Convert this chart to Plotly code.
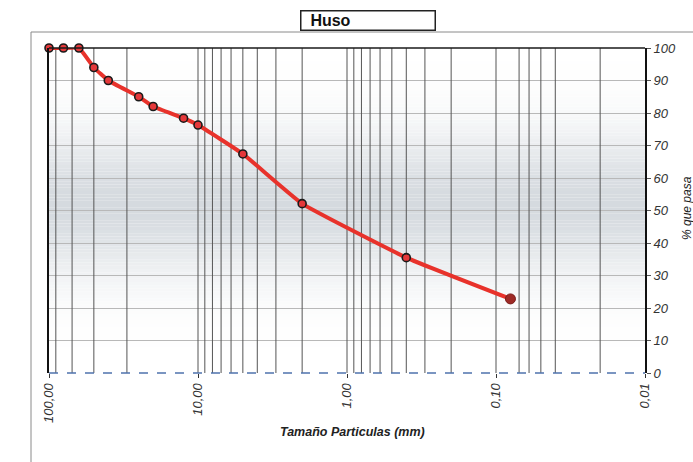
import numpy as np
import plotly.graph_objects as go

# Grain-size curve (sieve opening in mm vs. cumulative % passing)
sizes_mm = [100, 80, 63, 50, 40, 25, 20, 12.5, 10, 5, 2, 0.4, 0.08]
pct_passing = [100, 100, 100, 94, 90, 85, 82, 78.4, 76.3, 67.4, 52.1, 35.5, 22.8]

# Vertical reference lines of the log grid
grid_sizes = [90, 70, 50, 30, 10, 9, 8, 7, 6, 5, 4, 3, 2,
              1, 0.9, 0.8, 0.7, 0.6, 0.5, 0.4, 0.3, 0.2,
              0.1, 0.07, 0.06, 0.05, 0.04, 0.02]

x_tick_vals = [100, 10, 1, 0.1, 0.01]
x_tick_text = ["100,00", "10,00", "1,00", "0,10", "0,01"]
y_tick_vals = list(range(0, 101, 10))

W, H = 693, 462
ML, MR, MT, MB = 49, 48, 48, 89
PW = W - ML - MR
PH = H - MT - MB


def px_x(p):
    return (p - ML) / PW


def px_y(p):
    return (H - MB - p) / PH


FONT = "Liberation Sans, Arial, sans-serif"

fig = go.Figure()

# vertical grid lines
gx, gy = [], []
for s in grid_sizes:
    gx += [s, s, None]
    gy += [0, 100, None]
fig.add_trace(go.Scatter(x=gx, y=gy, mode="lines",
                         line=dict(color="#555555", width=1),
                         hoverinfo="skip", showlegend=False))

# curve
fig.add_trace(go.Scatter(
    x=sizes_mm, y=pct_passing, mode="lines", cliponaxis=False,
    line=dict(color="#e8322b", width=4, shape="spline", smoothing=0.35),
    showlegend=False, hoverinfo="skip"))
fig.add_trace(go.Scatter(
    x=sizes_mm[:-1], y=pct_passing[:-1], mode="markers", cliponaxis=False,
    marker=dict(size=8, color="#e5383a", line=dict(color="#1a1a1a", width=1.6)),
    showlegend=False))
fig.add_trace(go.Scatter(
    x=sizes_mm[-1:], y=pct_passing[-1:], mode="markers", cliponaxis=False,
    marker=dict(size=10, color="#9e2a26", line=dict(color="#7a1c1a", width=1)),
    showlegend=False))

shapes = []
# soft grey band behind the plot
for v in range(0, 100):
    c = v + 0.5
    t = np.exp(-((c - 52.0) / 21.0) ** 2)
    r = int(round(255 - t * 42))
    g = int(round(255 - t * 37))
    b = int(round(255 - t * 32))
    shapes.append(dict(type="rect", xref="paper", yref="y", x0=0, x1=1,
                       y0=v, y1=v + 1, line=dict(width=0),
                       fillcolor=f"rgb({r},{g},{b})", layer="below"))

# outer chart frame
shapes.append(dict(type="rect", xref="paper", yref="paper",
                   x0=px_x(31), x1=px_x(720), y0=px_y(500), y1=px_y(32),
                   line=dict(color="#8a8a8a", width=1), layer="below"))
# top and bottom borders of the plot area
shapes.append(dict(type="line", xref="paper", yref="paper", x0=0, x1=1, y0=1, y1=1,
                   line=dict(color="#1a1a1a", width=1.5)))
shapes.append(dict(type="line", xref="paper", yref="paper", x0=0, x1=1, y0=0, y1=0,
                   line=dict(color="#4f73ad", width=1.5, dash="dash")))

annotations = [
    dict(text="<b>&nbsp;&nbsp;Huso</b>", xref="paper", yref="paper",
         x=px_x(300), y=px_y(10.5), xanchor="left", yanchor="top",
         width=133, height=18, align="left", showarrow=False,
         bgcolor="white", bordercolor="#222222", borderwidth=1.5, borderpad=0,
         font=dict(family=FONT, size=16, color="#111111")),
    dict(text="<b><i>Tamaño Particulas (mm)</i></b>", xref="paper", yref="paper",
         x=px_x(352), y=px_y(432), xanchor="center", yanchor="middle",
         showarrow=False, font=dict(family=FONT, size=12.5, color="#222222")),
    dict(text="<i>% que pasa</i>", xref="paper", yref="paper",
         x=px_x(678), y=px_y(208), xanchor="left", yanchor="middle",
         textangle=-90, showarrow=False,
         font=dict(family=FONT, size=12, color="#222222")),
]

fig.update_layout(
    width=W, height=H,
    margin=dict(l=ML, r=MR, t=MT, b=MB),
    paper_bgcolor="white", plot_bgcolor="white",
    shapes=shapes, annotations=annotations,
    showlegend=False,
    xaxis=dict(type="log", range=[2, -2], showgrid=False, zeroline=False,
               tickvals=x_tick_vals, ticktext=x_tick_text, tickangle=-90,
               ticks="outside", ticklen=4, tickcolor="#333333",
               tickfont=dict(family=FONT, size=13, color="#333333", style="italic"),
               showline=False),
    yaxis=dict(range=[0, 100], side="right", tickvals=y_tick_vals,
               ticks="outside", ticklen=4, tickcolor="#555555",
               showgrid=True, gridcolor="#b8b8b8", gridwidth=1, zeroline=False,
               showline=True, mirror=True, linecolor="#111111", linewidth=2,
               tickfont=dict(family=FONT, size=13, color="#333333", style="italic")),
)

fig.write_html("out.html")
